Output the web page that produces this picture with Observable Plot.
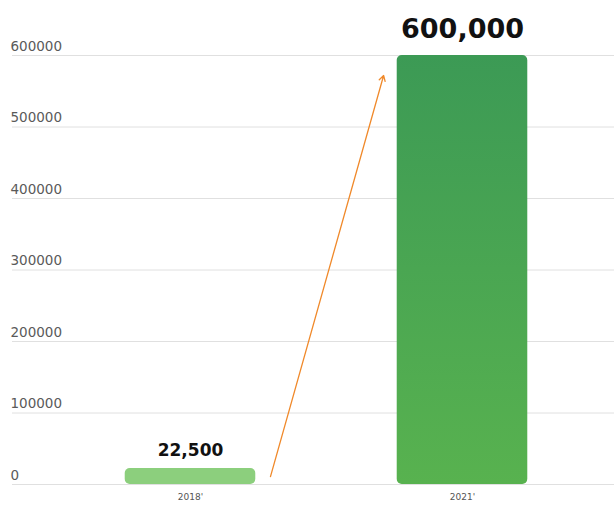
<!DOCTYPE html>
<html>
<head>
<meta charset="utf-8">
<script src="https://cdn.jsdelivr.net/npm/d3@7"></script>
<script src="https://cdn.jsdelivr.net/npm/@observablehq/plot@0.6"></script>
<style>
  html, body { margin: 0; padding: 0; background: #fff; }
  #chart svg { display: block; }
</style>
</head>
<body>
<div id="chart"></div>
<script>
const years = ["2018'", "2021'"];
const values = [22500, 600000];
const valueLabels = ["22,500", "600,000"];
const yTicks = [0, 100000, 200000, 300000, 400000, 500000, 600000];
const arrowFrom = 11000;
const arrowTo = 572000;

const data = years.map((y, i) => ({i, year: y, value: values[i], label: valueLabels[i]}));
const half = 0.24;

const chart = Plot.plot({
  width: 614,
  height: 515,
  marginTop: 55,
  marginBottom: 31,
  marginLeft: 12,
  marginRight: 0,
  style: {fontFamily: "'DejaVu Sans', sans-serif", background: "#fff"},
  x: {domain: [-0.5, 1.5], range: [54, 598]},
  y: {domain: [0, 600000]},
  marks: [
    Plot.ruleY(yTicks, {stroke: "#e0e0e0", strokeWidth: 1}),
    Plot.axisY({ticks: yTicks, tickSize: 0, tickPadding: 0, textAnchor: "start", dx: -2, dy: -9,
      fontSize: 13.5, fill: "#5a5a5a", tickFormat: d => String(d)}),
    Plot.axisX({ticks: [0, 1], tickSize: 0, tickPadding: 9, fontSize: 9, fill: "#555",
      tickFormat: d => years[d]}),
    Plot.rectY(data, {x1: d => d.i - half, x2: d => d.i + half, y1: 0, y2: "value",
      fill: d => d.i === 0 ? "#8ccf7d" : "url(#barGrad)", rx: 5}),
    Plot.text(data.filter(d => d.i === 0), {x: "i", y: "value", text: "label", lineAnchor: "bottom",
      dy: -12, fontSize: 17, fontWeight: "bold", fill: "#111"}),
    Plot.text(data.filter(d => d.i === 1), {x: "i", y: "value", text: "label", lineAnchor: "bottom",
      dy: -18, fontSize: 27, fontWeight: "bold", fill: "#111"}),
    Plot.arrow([{x1: 0 + 0.294, y1: arrowFrom, x2: 1 - 0.29, y2: arrowTo}],
      {x1: "x1", y1: "y1", x2: "x2", y2: "y2", stroke: "#f0892a", strokeWidth: 1.3, headLength: 7, bend: 0})
  ]
});

const svg = d3.select(chart);
const defs = svg.insert("defs", ":first-child");
const g = defs.append("linearGradient").attr("id", "barGrad")
  .attr("x1", 0).attr("y1", 0).attr("x2", 0).attr("y2", 1);
g.append("stop").attr("offset", "0%").attr("stop-color", "#3c9a55");
g.append("stop").attr("offset", "100%").attr("stop-color", "#58b24f");

document.getElementById("chart").appendChild(chart);
</script>
</body>
</html>
